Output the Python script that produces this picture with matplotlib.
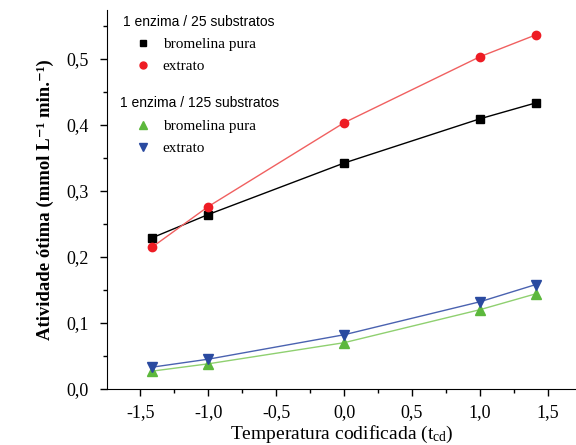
import numpy as np
import matplotlib
matplotlib.use('Agg')
import matplotlib.pyplot as plt
from matplotlib.lines import Line2D
from matplotlib.ticker import MultipleLocator, FuncFormatter

# temperatura codificada
t_cd = [-1.41, -1.0, 0.0, 1.0, 1.41]

# 1 enzima / 25 substratos
bromelina_25 = [0.229, 0.264, 0.342, 0.409, 0.433]
extrato_25 = [0.215, 0.276, 0.403, 0.503, 0.536]

# 1 enzima / 125 substratos
bromelina_125 = [0.027, 0.038, 0.070, 0.120, 0.144]
extrato_125 = [0.033, 0.045, 0.082, 0.132, 0.158]

serif = 'Liberation Serif'
sans = 'Liberation Sans'
plt.rcParams['mathtext.fontset'] = 'custom'
plt.rcParams['mathtext.rm'] = serif
plt.rcParams['mathtext.it'] = serif + ':italic'
plt.rcParams['mathtext.bf'] = serif + ':bold'

fig = plt.figure(figsize=(5.76, 4.45), dpi=100)
ax = fig.add_axes([0.186, 0.126, 0.814, 0.852])

ax.plot(t_cd, bromelina_25, color='black', lw=1.0, marker='s', ms=6)
ax.plot(t_cd, extrato_25, color='#f06060', lw=1.0, marker='o', ms=6,
        mfc='#ee1c24', mec='#ee1c24')
ax.plot(t_cd, bromelina_125, color='#8fd070', lw=1.0, marker='^', ms=7,
        mfc='#5cb83c', mec='#5cb83c')
ax.plot(t_cd, extrato_125, color='#4a62b0', lw=1.0, marker='v', ms=7,
        mfc='#2a4aa0', mec='#2a4aa0')

ax.set_xlim(-1.743, 1.706)
ax.set_ylim(0, 0.574)

ax.spines['top'].set_visible(False)
ax.spines['right'].set_visible(False)

ax.xaxis.set_major_locator(MultipleLocator(0.5))
ax.xaxis.set_minor_locator(MultipleLocator(0.25))
ax.yaxis.set_major_locator(MultipleLocator(0.1))
ax.yaxis.set_minor_locator(MultipleLocator(0.05))
fmt = FuncFormatter(lambda v, p: f"{v:.1f}".replace('.', ','))
ax.xaxis.set_major_formatter(fmt)
ax.yaxis.set_major_formatter(fmt)
ax.tick_params(which='major', length=5, width=1, labelsize=13)
ax.tick_params(axis='x', which='major', pad=6)
ax.tick_params(axis='y', which='major', pad=8)
ax.tick_params(which='minor', length=3, width=1)
for lab in ax.get_xticklabels() + ax.get_yticklabels():
    lab.set_fontfamily(serif)

ax.set_xlabel('Temperatura codificada (t$_{\\mathrm{cd}}$)', fontsize=14,
              fontfamily=serif, labelpad=2)
ax.set_ylabel('Atividade ótima (mmol L⁻¹ min.⁻¹)',
              fontsize=13.5, fontfamily=[serif, 'DejaVu Serif'],
              fontweight='bold', labelpad=9)

# legend, two groups with headers
ax.text(0.034, 0.968, '1 enzima / 25 substratos', transform=ax.transAxes,
        fontsize=10, fontfamily=sans, va='center')
ax.text(0.028, 0.755, '1 enzima / 125 substratos', transform=ax.transAxes,
        fontsize=10, fontfamily=sans, va='center')

h25 = [Line2D([], [], ls='none', marker='s', color='black', ms=5),
       Line2D([], [], ls='none', marker='o', color='#ee1c24', ms=5)]
h125 = [Line2D([], [], ls='none', marker='^', color='#5cb83c', ms=6),
        Line2D([], [], ls='none', marker='v', color='#2a4aa0', ms=6)]
leg_kw = dict(loc='upper left', frameon=False,
              prop={'family': serif, 'size': 11}, handletextpad=0.5,
              handlelength=1.5, labelspacing=0.55, borderaxespad=0)
leg1 = ax.legend(h25, ['bromelina pura', 'extrato'],
                 bbox_to_anchor=(0.04, 0.943), **leg_kw)
ax.add_artist(leg1)
ax.legend(h125, ['bromelina pura', 'extrato'],
          bbox_to_anchor=(0.04, 0.727), **leg_kw)

fig.savefig('out.png', dpi=100)
